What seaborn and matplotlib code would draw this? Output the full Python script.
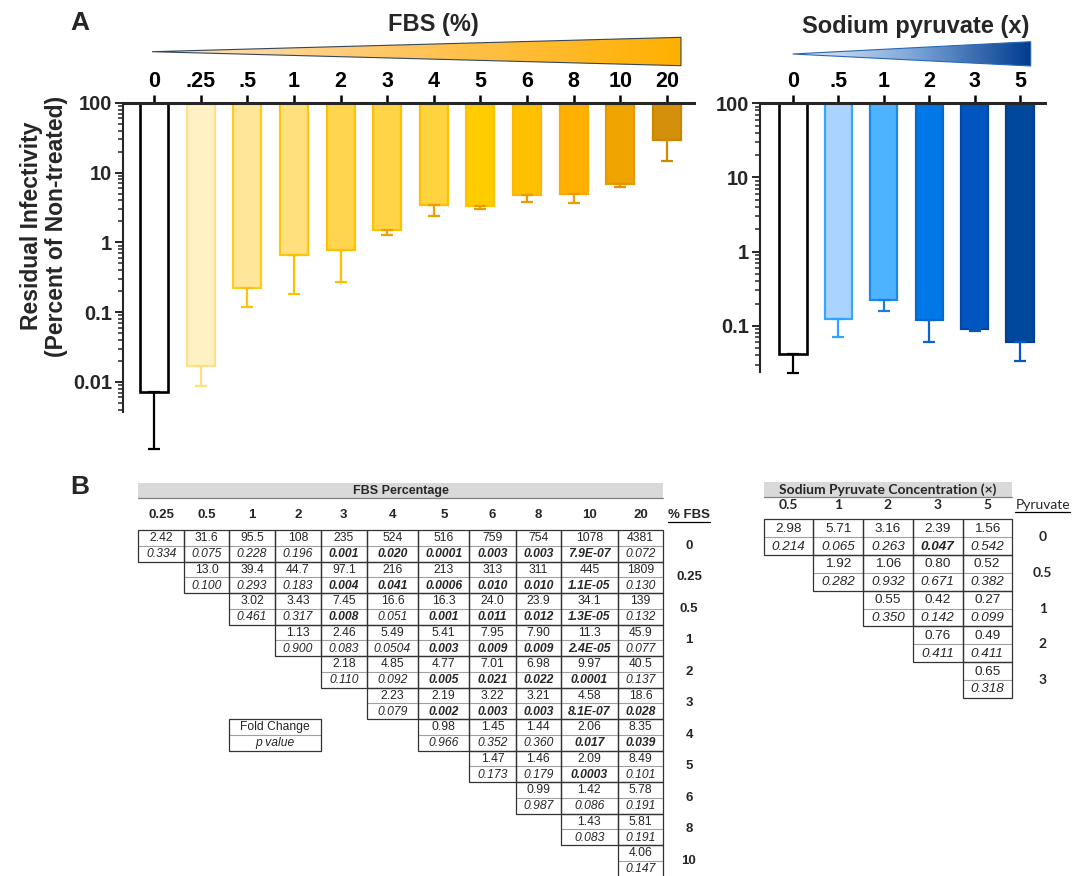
import numpy as np
import pandas as pd
import matplotlib
matplotlib.use("Agg")
import matplotlib.pyplot as plt
import seaborn as sns
from matplotlib.patches import Polygon, Rectangle
from matplotlib.colors import LinearSegmentedColormap
from matplotlib.ticker import LogLocator, NullFormatter

sns.set_style("ticks")
plt.rcParams["font.family"] = ["Liberation Sans", "DejaVu Sans"]

# ---------------- Panel A: residual infectivity (% of non-treated) ----------------
fbs_levels = ["0", ".25", ".5", "1", "2", "3", "4", "5", "6", "8", "10", "20"]
fbs_mean = [0.0072, 0.0166, 0.22, 0.67, 0.77, 1.52, 3.45, 3.3, 4.8, 4.9, 6.8, 29.7]
fbs_lower = [0.0011, 0.0087, 0.117, 0.18, 0.27, 1.26, 2.4, 2.98, 3.85, 3.7, 6.3, 14.7]
fbs_fill = ["#ffffff", "#fff1c4", "#ffe699", "#ffe07c", "#ffd54f", "#ffd447",
            "#ffd33d", "#ffcc00", "#ffc000", "#ffb000", "#f0a400", "#d4900a"]
fbs_edge = ["#000000", "#ffe08a", "#ffcc1a", "#ffc60d", "#ffc000", "#ffc000",
            "#ffc000", "#ffc400", "#ffb800", "#ffa800", "#e59a00", "#c98700"]
fbs_err = ["#000000", "#ffe07a", "#ffc20d", "#ffc000", "#ffbe00", "#f0a000",
           "#eba000", "#e89c00", "#e89c00", "#e89c00", "#e09500", "#d08a00"]

pyr_levels = ["0", ".5", "1", "2", "3", "5"]
pyr_mean = [0.0417, 0.123, 0.221, 0.120, 0.092, 0.060]
pyr_lower = [0.023, 0.070, 0.159, 0.060, 0.084, 0.034]
pyr_fill = ["#ffffff", "#aad4ff", "#4db3ff", "#0078e8", "#0055c0", "#00479e"]
pyr_edge = ["#000000", "#35a6ff", "#1e88e5", "#0a68cc", "#0048a8", "#003f90"]
pyr_err = ["#000000", "#2ea3ff", "#1a7fdc", "#0a66cc", "#0a55b8", "#0a55b8"]

# ---------------- Panel B: pairwise fold change / p value tables ----------------
fbs_cols = ["0.25", "0.5", "1", "2", "3", "4", "5", "6", "8", "10", "20"]
fbs_rows = ["0", "0.25", "0.5", "1", "2", "3", "4", "5", "6", "8", "10"]
fbs_fold = [
    ["2.42", "31.6", "95.5", "108", "235", "524", "516", "759", "754", "1078", "4381"],
    ["13.0", "39.4", "44.7", "97.1", "216", "213", "313", "311", "445", "1809"],
    ["3.02", "3.43", "7.45", "16.6", "16.3", "24.0", "23.9", "34.1", "139"],
    ["1.13", "2.46", "5.49", "5.41", "7.95", "7.90", "11.3", "45.9"],
    ["2.18", "4.85", "4.77", "7.01", "6.98", "9.97", "40.5"],
    ["2.23", "2.19", "3.22", "3.21", "4.58", "18.6"],
    ["0.98", "1.45", "1.44", "2.06", "8.35"],
    ["1.47", "1.46", "2.09", "8.49"],
    ["0.99", "1.42", "5.78"],
    ["1.43", "5.81"],
    ["4.06"],
]
fbs_p = [
    ["0.334", "0.075", "0.228", "0.196", "0.001", "0.020", "0.0001", "0.003", "0.003", "7.9E-07", "0.072"],
    ["0.100", "0.293", "0.183", "0.004", "0.041", "0.0006", "0.010", "0.010", "1.1E-05", "0.130"],
    ["0.461", "0.317", "0.008", "0.051", "0.001", "0.011", "0.012", "1.3E-05", "0.132"],
    ["0.900", "0.083", "0.0504", "0.003", "0.009", "0.009", "2.4E-05", "0.077"],
    ["0.110", "0.092", "0.005", "0.021", "0.022", "0.0001", "0.137"],
    ["0.079", "0.002", "0.003", "0.003", "8.1E-07", "0.028"],
    ["0.966", "0.352", "0.360", "0.017", "0.039"],
    ["0.173", "0.179", "0.0003", "0.101"],
    ["0.987", "0.086", "0.191"],
    ["0.083", "0.191"],
    ["0.147"],
]

pyr_cols = ["0.5", "1", "2", "3", "5"]
pyr_rows = ["0", "0.5", "1", "2", "3"]
pyr_fold = [
    ["2.98", "5.71", "3.16", "2.39", "1.56"],
    ["1.92", "1.06", "0.80", "0.52"],
    ["0.55", "0.42", "0.27"],
    ["0.76", "0.49"],
    ["0.65"],
]
pyr_p = [
    ["0.214", "0.065", "0.263", "0.047", "0.542"],
    ["0.282", "0.932", "0.671", "0.382"],
    ["0.350", "0.142", "0.099"],
    ["0.411", "0.411"],
    ["0.318"],
]

W, H = 1074, 876
fig = plt.figure(figsize=(W / 100, H / 100), dpi=100)


def px_axes(left, top, right, bottom, **kw):
    return fig.add_axes([left / W, 1 - bottom / H, (right - left) / W, (bottom - top) / H], **kw)


def hanging_bars(ax, levels, mean, lower, fills, edges, errc, xlim, ylim, yticks):
    """Bars hang from the 100% line down to each mean, with a lower error whisker."""
    df = pd.DataFrame({"level": levels, "span": [100 - m for m in mean]})
    sns.barplot(data=df, x="level", y="span", order=levels, bottom=mean, color="white",
                width=0.6, errorbar=None, linewidth=1.6, ax=ax)
    for patch, fc, ec in zip(ax.patches, fills, edges):
        patch.set_facecolor(fc)
        patch.set_edgecolor(ec)
        patch.set_linewidth(1.9 if ec == "#000000" else 1.6)
    ax.set_yscale("log")
    for i, (m, lo, c) in enumerate(zip(mean, lower, errc)):
        cont = ax.errorbar(i, m, yerr=[[m - lo], [0]], fmt="none", ecolor=c,
                           elinewidth=1.6, capsize=4.3, capthick=1.6)
        for art in cont.get_children():
            art.set_clip_on(False)
    ax.set_xlim(*xlim)
    ax.set_ylim(*ylim)
    ax.set_xlabel("")
    ax.set_ylabel("")
    ax.xaxis.tick_top()
    ax.set_yticks(yticks, labels=[("%g" % t) for t in yticks])
    ax.yaxis.set_minor_locator(LogLocator(base=10, subs=np.arange(2, 10), numticks=30))
    ax.yaxis.set_minor_formatter(NullFormatter())
    ax.tick_params(axis="x", which="major", direction="out", length=6, width=1.8,
                   pad=2, labelsize=15.5, colors="black")
    ax.tick_params(axis="y", which="major", direction="out", length=6, width=1.4,
                   pad=2, labelsize=14.5)
    ax.tick_params(axis="y", which="minor", direction="out", length=3.5, width=1.1)
    for lbl in ax.get_xticklabels() + ax.get_yticklabels():
        lbl.set_fontweight("bold")
    ax.spines["bottom"].set_visible(False)
    ax.spines["right"].set_visible(False)
    ax.spines["top"].set_linewidth(2.2)
    ax.spines["left"].set_linewidth(1.5)
    ax.set_facecolor("none")


ax_fbs = px_axes(123, 103, 694, 411.7)
hanging_bars(ax_fbs, fbs_levels, fbs_mean, fbs_lower, fbs_fill, fbs_edge, fbs_err,
             (-0.665, 11.58), (0.00372, 100), [100, 10, 1, 0.1, 0.01])

ax_pyr = px_axes(760, 103.3, 1045, 371.7)
hanging_bars(ax_pyr, pyr_levels, pyr_mean, pyr_lower, pyr_fill, pyr_edge, pyr_err,
             (-0.727, 5.55), (0.0241, 100), [100, 10, 1, 0.1])

# ---------------- free-form layer: headings, wedges, tables ----------------
cv = fig.add_axes([0, 0, 1, 1], zorder=-1)
cv.set_axis_off()


def wedge(tip, x_end, y_top, y_bot, colors, edge):
    cmap = LinearSegmentedColormap.from_list("wedge", colors)
    grad = np.linspace(0, 1, 256).reshape(1, -1)
    im = cv.imshow(grad, cmap=cmap, extent=(tip[0], x_end, y_bot, y_top),
                   aspect="auto", interpolation="bilinear", zorder=1)
    tri = Polygon([tip, (x_end, y_top), (x_end, y_bot)], closed=True,
                  facecolor="none", edgecolor=edge, lw=0.8, zorder=2)
    cv.add_patch(tri)
    im.set_clip_path(tri)


wedge((152, 51.7), 681, 37.3, 65.7, ["#fde3c8", "#ffc45a", "#ffb000"], "#34465a")
wedge((792.7, 54), 1030.7, 41.7, 66, ["#e8f0fa", "#7ea7d8", "#003c8f"], "#2a66b8")

cv.text(80, 23, "A", fontsize=19, weight="bold", ha="center", va="center")
cv.text(80, 487, "B", fontsize=19, weight="bold", ha="center", va="center")
cv.text(433, 25, "FBS (%)", fontsize=17, weight="bold", ha="center", va="center")
cv.text(916, 26, "Sodium pyruvate (x)", fontsize=17, weight="bold", ha="center", va="center")

fig.text(32 / W, 1 - 226 / H, "Residual Infectivity", rotation=90, fontsize=16.5,
         weight="bold", ha="center", va="center")
fig.text(56 / W, 1 - 226 / H, "(Percent of Non-treated)", rotation=90, fontsize=16.5,
         weight="bold", ha="center", va="center")

CALI = ["Lato", "DejaVu Sans"]
underlines = []


def fold_table(cols, rows, fold, pvals, col_edges, top, pair_h, head_y, bar_top, bar_bot,
               title, title_font, head_font, row_font, row_x, corner, corner_font,
               val_size, head_size, title_size, row_bold):
    x0, x1 = col_edges[0], col_edges[-1]
    cv.add_patch(Rectangle((x0, bar_top), x1 - x0, bar_bot - bar_top,
                           facecolor="#d9d9d9", edgecolor="none", zorder=1))
    cv.plot([x0, x1], [bar_bot, bar_bot], color="#7f7f7f", lw=0.9, zorder=2)
    cv.text((x0 + x1) / 2, (bar_top + bar_bot) / 2 + 0.5, title, family=title_font,
            weight="bold", fontsize=title_size, ha="center", va="center", zorder=3)
    centers = [(col_edges[k] + col_edges[k + 1]) / 2 for k in range(len(cols))]
    for cx, c in zip(centers, cols):
        cv.text(cx, head_y, c, family=head_font, weight="bold", fontsize=head_size,
                ha="center", va="center")
    t = cv.text(row_x, head_y, corner, family=corner_font[0], weight=corner_font[1],
                fontsize=head_size, ha="center", va="center")
    underlines.append(t)
    rh = pair_h / 2
    for i, r in enumerate(rows):
        y = top + i * pair_h
        cv.text(row_x, y + rh, r, family=row_font, weight="bold" if row_bold else "normal",
                fontsize=head_size, ha="center", va="center")
        for k, (fv, pv) in enumerate(zip(fold[i], pvals[i])):
            j = i + k
            xa, xb = col_edges[j], col_edges[j + 1]
            cv.add_patch(Rectangle((xa, y), xb - xa, pair_h, facecolor="none",
                                   edgecolor="#333333", lw=0.9, zorder=3))
            cv.plot([xa, xb], [y + rh, y + rh], color="#a0a0a0", lw=0.8, zorder=2)
            cx = (xa + xb) / 2
            cv.text(cx, y + rh * 0.5 + 0.5, fv, fontsize=val_size, ha="center", va="center")
            sig = float(pv) < 0.05
            cv.text(cx, y + rh * 1.5 + 0.5, pv, fontsize=val_size, style="italic",
                    weight="bold" if sig else "normal", ha="center", va="center")


fbs_edges = [138.3, 184.3, 229.3, 275, 321, 366.7, 418.3, 469.3, 515.7, 560.7, 618, 663]
fold_table(fbs_cols, fbs_rows, fbs_fold, fbs_p, fbs_edges, top=530, pair_h=31.5,
           head_y=515, bar_top=483, bar_bot=498, title="FBS Percentage",
           title_font=["Liberation Sans"], head_font=["Liberation Sans"],
           row_font=["Liberation Sans"], row_x=689, corner="% FBS",
           corner_font=(["Liberation Sans"], "bold"), val_size=8.7, head_size=9.5,
           title_size=9, row_bold=True)

# key explaining the two lines of every cell
ky, kx0, kx1 = 530 + 6 * 31.5, fbs_edges[2], fbs_edges[4]
cv.add_patch(Rectangle((kx0, ky), kx1 - kx0, 31.5, facecolor="none",
                       edgecolor="#333333", lw=0.9, zorder=3))
cv.plot([kx0, kx1], [ky + 15.75, ky + 15.75], color="#a0a0a0", lw=0.8, zorder=2)
cv.text((kx0 + kx1) / 2, ky + 8.4, "Fold Change", fontsize=8.7, ha="center", va="center")
cv.text((kx0 + kx1) / 2, ky + 24.1, "p value", fontsize=8.7, style="italic",
        ha="center", va="center")

pyr_edges = [764, 813.3, 863.3, 912.7, 962.7, 1011.7]
fold_table(pyr_cols, pyr_rows, pyr_fold, pyr_p, pyr_edges, top=519.3, pair_h=35.7,
           head_y=505, bar_top=481.7, bar_bot=496.7,
           title="Sodium Pyruvate Concentration (\u00d7)", title_font=CALI,
           head_font=CALI, row_font=CALI, row_x=1042.7, corner="Pyruvate",
           corner_font=(CALI, "normal"), val_size=9.7, head_size=10, title_size=10,
           row_bold=True)

cv.set_xlim(0, W)
cv.set_ylim(H, 0)

# underline the row-group headings
fig.canvas.draw()
rend = fig.canvas.get_renderer()
inv = cv.transData.inverted()
for t in underlines:
    bb = t.get_window_extent(rend)
    (xa, ya), (xb, yb) = inv.transform([(bb.x0, bb.y0), (bb.x1, bb.y1)])
    cv.plot([xa, xb], [ya + 0.5, ya + 0.5], color="black", lw=0.9)
cv.set_xlim(0, W)
cv.set_ylim(H, 0)

fig.savefig("out.png", dpi=100)
